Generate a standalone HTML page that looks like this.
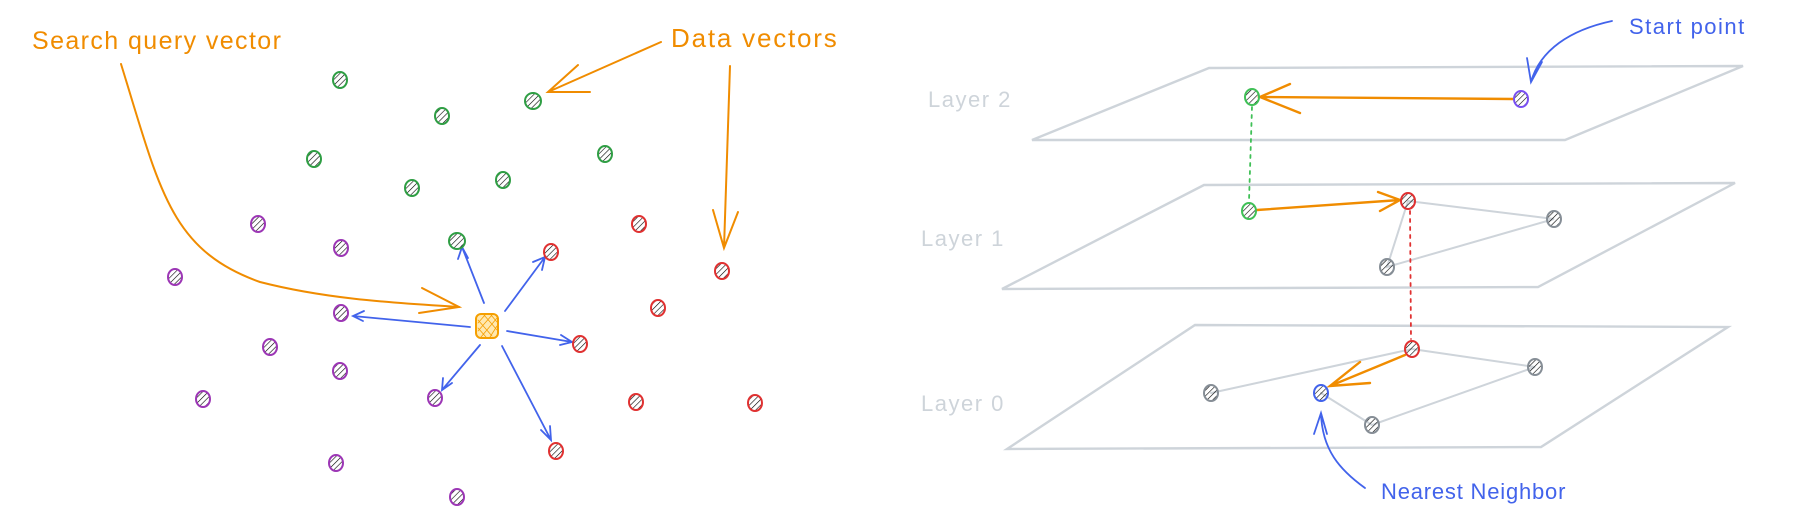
<!DOCTYPE html>
<html><head><meta charset="utf-8"><style>
html,body{margin:0;padding:0;background:#fff;width:1810px;height:527px;overflow:hidden}
svg{display:block}
text{font-family:"Liberation Sans",sans-serif}
</style></head><body>
<svg width="1810" height="527" viewBox="0 0 1810 527" xmlns="http://www.w3.org/2000/svg">
<defs>
<pattern id="h" width="4" height="4" patternUnits="userSpaceOnUse" patternTransform="rotate(45)"><line x1="0" y1="0" x2="0" y2="4" stroke-width="1.2" stroke="currentColor"/></pattern>
</defs>
<g fill="none" stroke-linecap="round">
<text x="32" y="49" font-size="25" letter-spacing="1.4" fill="#f08c00" stroke="none">Search query vector</text>
<text x="671" y="47" font-size="26" letter-spacing="1.8" fill="#f08c00" stroke="none">Data vectors</text>
<path d="M121 64 C160 190 170 250 260 282 C330 300 400 303 459 307" stroke="#f08c00" stroke-width="2"/>
<path d="M422 288 L459 307 L419 313" stroke="#f08c00" stroke-width="2"/>
<path d="M661 42 L548 92 M578 65 L548 92 L590 92" stroke="#f08c00" stroke-width="2"/>
<path d="M730 66 L724 248 M713 210 L724 248 L738 212" stroke="#f08c00" stroke-width="2"/>
<g stroke="#4263eb" stroke-width="1.8">
<path d="M484 303 L462 247 M458 259 L462 247 L468 258"/>
<path d="M505 311 L545 257 M533 262 L545 257 L542 270"/>
<path d="M470 327 L353 316 M364 311 L353 316 L363 321"/>
<path d="M507 331 L572 342 M561 335 L572 342 L560 345"/>
<path d="M480 345 L442 390 M443 378 L442 390 L452 383"/>
<path d="M502 346 L551 440 M541 430 L551 440 L550 426"/>
</g>
<g stroke="#2f9e44" stroke-width="2" color="#2f9e44">
<ellipse cx="340" cy="80" rx="7" ry="8" fill="url(#h)"/><ellipse cx="442" cy="116" rx="7" ry="8" fill="url(#h)"/><ellipse cx="533" cy="101" rx="8" ry="8" fill="url(#h)"/><ellipse cx="314" cy="159" rx="7" ry="8" fill="url(#h)"/><ellipse cx="412" cy="188" rx="7" ry="8" fill="url(#h)"/><ellipse cx="503" cy="180" rx="7" ry="8" fill="url(#h)"/><ellipse cx="605" cy="154" rx="7" ry="8" fill="url(#h)"/><ellipse cx="457" cy="241" rx="8" ry="8" fill="url(#h)"/>
</g>
<g stroke="#9c36b5" stroke-width="2" color="#9c36b5">
<ellipse cx="258" cy="224" rx="7" ry="8" fill="url(#h)"/><ellipse cx="341" cy="248" rx="7" ry="8" fill="url(#h)"/><ellipse cx="175" cy="277" rx="7" ry="8" fill="url(#h)"/><ellipse cx="341" cy="313" rx="7" ry="8" fill="url(#h)"/><ellipse cx="270" cy="347" rx="7" ry="8" fill="url(#h)"/><ellipse cx="340" cy="371" rx="7" ry="8" fill="url(#h)"/><ellipse cx="203" cy="399" rx="7" ry="8" fill="url(#h)"/><ellipse cx="435" cy="398" rx="7" ry="8" fill="url(#h)"/><ellipse cx="336" cy="463" rx="7" ry="8" fill="url(#h)"/><ellipse cx="457" cy="497" rx="7" ry="8" fill="url(#h)"/>
</g>
<g stroke="#e03131" stroke-width="2" color="#e03131">
<ellipse cx="639" cy="224" rx="7" ry="8" fill="url(#h)"/><ellipse cx="551" cy="252" rx="7" ry="8" fill="url(#h)"/><ellipse cx="722" cy="271" rx="7" ry="8" fill="url(#h)"/><ellipse cx="658" cy="308" rx="7" ry="8" fill="url(#h)"/><ellipse cx="580" cy="344" rx="7" ry="8" fill="url(#h)"/><ellipse cx="636" cy="402" rx="7" ry="8" fill="url(#h)"/><ellipse cx="755" cy="403" rx="7" ry="8" fill="url(#h)"/><ellipse cx="556" cy="451" rx="7" ry="8" fill="url(#h)"/>
</g>
<rect x="476" y="314" width="22" height="24" rx="5" stroke="#f59f00" stroke-width="2" fill="#ffe8b0"/>
<path d="M478 320 L492 336 M478 328 L486 337 M484 315 L497 330 M491 315 L497 322 M492 315 L478 331 M497 318 L481 337 M497 326 L490 337 M485 315 L478 323" stroke="#f59f00" stroke-width="0.8"/>

<g stroke="#ced4da" stroke-width="2.4">
<path d="M1209 68 L1743 66 L1565 140 L1032 140 Z"/>
<path d="M1204 185 L1735 183 L1538 287 L1002 289 Z"/>
<path d="M1195 325 L1728 327 L1541 447 L1007 449 Z"/>
</g>
<g fill="#ced4da" font-size="22" letter-spacing="1.5" stroke="none">
<text x="928" y="107">Layer 2</text>
<text x="921" y="246">Layer 1</text>
<text x="921" y="411">Layer 0</text>
</g>
<g stroke="#ced4da" stroke-width="2">
<path d="M1408 201 L1554 219 L1387 267 L1408 201"/>
<path d="M1412 349 L1211 393 M1412 349 L1535 367 L1372 425 L1321 393"/>
</g>
<path d="M1252 107 L1249 201" stroke="#40c057" stroke-width="1.8" stroke-dasharray="3,5"/>
<path d="M1410 211 L1411 339" stroke="#e03131" stroke-width="1.8" stroke-dasharray="3,5"/>
<g stroke="#f08c00" stroke-width="2.4">
<path d="M1513 99 L1260 97 M1290 84 L1260 97 L1300 113"/>
<path d="M1257 210 L1400 200 M1378 192 L1400 200 L1380 211"/>
<path d="M1405 355 L1330 386 M1360 362 L1330 386 L1370 383"/>
</g>
<g stroke-width="2">
<ellipse cx="1252" cy="97" rx="7" ry="8" stroke="#40c057" fill="url(#h)" color="#40c057"/>
<ellipse cx="1521" cy="99" rx="7" ry="8" stroke="#7950f2" fill="url(#h)" color="#7950f2"/>
<ellipse cx="1249" cy="211" rx="7" ry="8" stroke="#40c057" fill="url(#h)" color="#40c057"/>
<ellipse cx="1408" cy="201" rx="7" ry="8" stroke="#e03131" fill="url(#h)" color="#e64980"/>
<ellipse cx="1554" cy="219" rx="7" ry="8" stroke="#868e96" fill="url(#h)" color="#ced4da"/>
<ellipse cx="1387" cy="267" rx="7" ry="8" stroke="#868e96" fill="url(#h)" color="#ced4da"/>
<ellipse cx="1412" cy="349" rx="7" ry="8" stroke="#e03131" fill="url(#h)" color="#e64980"/>
<ellipse cx="1535" cy="367" rx="7" ry="8" stroke="#868e96" fill="url(#h)" color="#ced4da"/>
<ellipse cx="1211" cy="393" rx="7" ry="8" stroke="#868e96" fill="url(#h)" color="#ced4da"/>
<ellipse cx="1321" cy="393" rx="7" ry="8" stroke="#4263eb" fill="url(#h)" color="#748ffc"/>
<ellipse cx="1372" cy="425" rx="7" ry="8" stroke="#868e96" fill="url(#h)" color="#ced4da"/>
</g>
<g fill="#4263eb" stroke="none">
<text x="1629" y="34" font-size="22" letter-spacing="1.5">Start point</text>
<text x="1381" y="499" font-size="22" letter-spacing="0.8">Nearest Neighbor</text>
</g>
<g stroke="#4263eb" stroke-width="1.8">
<path d="M1612 21 C1570 30 1540 50 1531 82 M1527 58 L1531 82 L1542 62"/>
<path d="M1365 488 C1340 470 1322 450 1321 413 M1314 434 L1321 413 L1327 434"/>
</g>
</g>
</svg>
</body></html>
